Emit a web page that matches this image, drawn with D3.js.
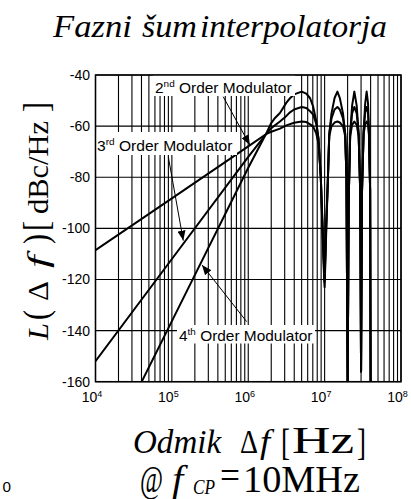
<!DOCTYPE html>
<html>
<head>
<meta charset="utf-8">
<script src="https://cdn.jsdelivr.net/npm/d3@7"></script>
<style>
body { margin: 0; background: #fff; }
svg { display: block; }
</style>
</head>
<body>
<svg id="chart" width="411" height="499"></svg>
<script>
// [offset Hz, L(df) dBc/Hz]
var order2 = [
	[1.00e4,-108.5],[1.00e5,-88.3],[1.00e6,-67.9],[1.74e6,-63.0],[2.00e6,-62.2],[2.60e6,-61.0],
	[3.16e6,-59.7],[3.98e6,-58.7],[5.01e6,-58.2],[5.75e6,-58.4],[6.46e6,-59.3],[7.08e6,-60.2],
	[7.76e6,-62.8],[8.32e6,-67],[8.91e6,-80],[9.44e6,-100],[9.89e6,-117],
	[1.00e7,-119],[1.05e7,-97],[1.10e7,-82],[1.15e7,-64],[1.23e7,-60],[1.35e7,-58.6],[1.47e7,-58.2],
	[1.58e7,-58.6],[1.74e7,-60],[1.86e7,-64],[1.93e7,-80],[2.00e7,-162],
	[2.07e7,-88],[2.16e7,-64],[2.29e7,-59.5],[2.45e7,-58.2],[2.63e7,-59.5],[2.79e7,-64],[2.92e7,-85],[3.00e7,-156],
	[3.09e7,-85],[3.24e7,-63],[3.40e7,-59.3],[3.55e7,-58.2],[3.70e7,-59.3],[3.80e7,-63],[3.94e7,-85],[4.00e7,-162]
];
var order3 = [
	[1.00e4,-152],[1.00e5,-112],[1.00e6,-72],[1.74e6,-62.8],[2.00e6,-60.8],[2.60e6,-58.2],
	[3.16e6,-56],[3.52e6,-54.6],[3.98e6,-53.5],[5.01e6,-52.5],[5.75e6,-52.9],[6.46e6,-54.2],
	[7.08e6,-55.5],[7.76e6,-59],[8.32e6,-65],[8.91e6,-80],[9.44e6,-102],[9.89e6,-119],
	[1.00e7,-121],[1.05e7,-99],[1.10e7,-82],[1.15e7,-63],[1.23e7,-57],[1.35e7,-53.5],[1.47e7,-52.5],
	[1.58e7,-53.5],[1.74e7,-57],[1.86e7,-63],[1.93e7,-80],[2.00e7,-162],
	[2.07e7,-88],[2.16e7,-63],[2.29e7,-55],[2.45e7,-52.5],[2.63e7,-55],[2.79e7,-63],[2.92e7,-85],[3.00e7,-156],
	[3.09e7,-85],[3.24e7,-62],[3.40e7,-54.5],[3.55e7,-52.5],[3.70e7,-55],[3.80e7,-62],[3.94e7,-85],[4.00e7,-162]
];
var order4 = [
	[3.98e4,-160.3],[1.00e5,-136.3],[1.00e6,-76.3],[1.74e6,-62.6],[2.00e6,-58.8],[2.24e6,-56.8],
	[2.60e6,-54.9],[3.16e6,-50.8],[3.52e6,-49.1],[3.98e6,-47.6],[5.01e6,-46.5],[5.75e6,-47.3],
	[6.46e6,-49.1],[7.08e6,-52.4],[7.76e6,-58],[8.32e6,-65],[8.91e6,-80],[9.44e6,-104],[9.89e6,-121],
	[1.00e7,-123],[1.05e7,-101],[1.10e7,-82],[1.15e7,-63],[1.23e7,-55],[1.35e7,-49],[1.47e7,-46.5],
	[1.58e7,-49],[1.74e7,-55],[1.86e7,-63],[1.93e7,-80],[2.00e7,-162],
	[2.07e7,-88],[2.16e7,-63],[2.29e7,-52],[2.45e7,-46.5],[2.63e7,-52],[2.79e7,-63],[2.92e7,-85],[3.00e7,-156],
	[3.09e7,-85],[3.24e7,-62],[3.40e7,-51],[3.55e7,-46.5],[3.70e7,-51],[3.80e7,-62],[3.94e7,-85],[4.00e7,-162]
];

var yTicks = [-40, -60, -80, -100, -120, -140, -160];
var xTicks = [1e4, 1e5, 1e6, 1e7, 1e8];

var annotNum = ["2", "3", "4"];
var annotSup = ["nd", "rd", "th"];
var arrowFrom = [[4.7e5, -48.5], [8.98e4, -72], [9.53e5, -136.5]];
var arrowTo = [[1.05e6, -67.4], [1.41e5, -104.8], [2.48e5, -114.3]];

var svg = d3.select("#chart");
var pL = 95.5, pR = 401, pT = 75, pB = 381.7;

var x = d3.scaleLog().domain([1e4, 1e8]).range([pL, pR]);
var y = d3.scaleLinear().domain([-160, -40]).range([pB, pT]);

var SERIF = "'Liberation Serif', 'Times New Roman', serif";
var SANS = "'Liberation Sans', Arial, sans-serif";

// grid
var grid = svg.append("g").attr("stroke", "#000").attr("stroke-width", 1.1);
grid.selectAll("line.v")
	.data(x.ticks())
	.enter()
	.append("line")
	.attr("class", "v")
	.attr("x1", function(d){ return x(d); })
	.attr("x2", function(d){ return x(d); })
	.attr("y1", pT)
	.attr("y2", pB);
grid.selectAll("line.h")
	.data(yTicks)
	.enter()
	.append("line")
	.attr("class", "h")
	.attr("x1", pL)
	.attr("x2", pR)
	.attr("y1", function(d){ return y(d); })
	.attr("y2", function(d){ return y(d); });

// curves
svg.append("clipPath").attr("id", "plot")
	.append("rect")
	.attr("x", pL).attr("y", pT)
	.attr("width", pR - pL).attr("height", pB - pT);

var line = d3.line()
	.x(function(d){ return x(d[0]); })
	.y(function(d){ return y(d[1]); });

svg.append("g")
	.attr("clip-path", "url(#plot)")
	.selectAll("path")
	.data([order2, order3, order4])
	.enter()
	.append("path")
	.attr("d", line)
	.attr("fill", "none")
	.attr("stroke", "#000")
	.attr("stroke-width", 2)
	.attr("stroke-linejoin", "round");

function fit(t, x0, y0, w, rot){
	var bw = t.node().getBBox().width;
	t.attr("transform", "translate(" + x0 + "," + y0 + ")" + (rot ? " rotate(-90)" : "") + " scale(" + (w / bw) + ",1)");
}

// annotation boxes + labels
var boxes = [[153, 75, 142, 21, 155, 93], [95.5, 132, 141.5, 23, 97, 150.5], [177, 325, 138, 18.5, 179, 340.5]];
var labelW = [137, 136, 134];

svg.append("defs").append("marker")
	.attr("id", "head")
	.attr("viewBox", "0 0 10 8")
	.attr("refX", 10).attr("refY", 4)
	.attr("markerWidth", 10).attr("markerHeight", 8)
	.attr("markerUnits", "userSpaceOnUse")
	.attr("orient", "auto")
	.append("path")
	.attr("d", "M0,0L10,4L0,8Z")
	.attr("fill", "#000");

annotNum.forEach(function(n, i){
	var b = boxes[i];
	svg.append("rect")
		.attr("x", b[0]).attr("y", b[1])
		.attr("width", b[2]).attr("height", b[3])
		.attr("fill", "#fff");
	var t = svg.append("text")
		.attr("font-family", SANS)
		.attr("font-size", 14);
	t.append("tspan").text(n);
	t.append("tspan").attr("font-size", 9).attr("dy", -6).text(annotSup[i]);
	t.append("tspan").attr("dy", 6).text(" Order Modulator");
	fit(t, b[4], b[5], labelW[i]);

	svg.append("line")
		.attr("x1", x(arrowFrom[i][0])).attr("y1", y(arrowFrom[i][1]))
		.attr("x2", x(arrowTo[i][0])).attr("y2", y(arrowTo[i][1]))
		.attr("stroke", "#000")
		.attr("stroke-width", 1)
		.attr("marker-end", "url(#head)");
});

// frame
svg.append("rect")
	.attr("x", pL).attr("y", pT)
	.attr("width", pR - pL).attr("height", pB - pT)
	.attr("fill", "none")
	.attr("stroke", "#000")
	.attr("stroke-width", 1.5);

// axes
var yAxis = svg.append("g")
	.attr("transform", "translate(" + pL + ",0)")
	.call(d3.axisLeft(y).tickValues(yTicks).tickSize(0).tickPadding(5.5));
yAxis.select(".domain").remove();
yAxis.selectAll("text")
	.attr("font-family", SANS)
	.attr("font-size", 14)
	.attr("fill", "#000")
	.text(function(d){ return d; });

var xAxis = svg.append("g")
	.attr("transform", "translate(0," + pB + ")")
	.call(d3.axisBottom(x).tickValues(xTicks).tickSize(0).tickPadding(10));
xAxis.select(".domain").remove();
xAxis.selectAll("text")
	.attr("font-family", SANS)
	.attr("font-size", 14)
	.attr("fill", "#000")
	.attr("x", -4)
	.text("")
	.each(function(d){
		var t = d3.select(this);
		t.append("tspan").text("10");
		t.append("tspan").attr("font-size", 9).attr("dy", "-0.55em").text(Math.round(Math.log10(d)));
	});

// titles
function piece(str, x0, y0, w, size, italic, fam, rot){
	var t = svg.append("text")
		.attr("font-family", fam || SERIF)
		.attr("font-size", size)
		.attr("font-style", italic ? "italic" : "normal")
		.text(str);
	fit(t, x0, y0, w, rot);
	return t;
}

piece("Fazni", 53, 37, 80, 32, true);
piece("šum", 142, 37, 55, 32, true);
piece("interpolatorja", 200, 37, 187, 32, true);

// y title, baseline at x=48, reading upward
piece("L", 48, 340, 18, 30, true, SERIF, true);
piece("(", 48, 320, 10, 36, false, SERIF, true);
piece("Δ", 48, 301, 20, 30, false, SERIF, true);
piece("f", 48, 268, 18, 30, true, SERIF, true);
piece(")", 48, 244, 10, 36, false, SERIF, true);
piece("[", 48, 231, 10, 36, false, SERIF, true);
piece("dBc/Hz", 48, 214, 93, 30, false, SERIF, true);
piece("]", 48, 112, 10, 36, false, SERIF, true);

// x title
piece("Odmik", 133, 453, 89, 34, true);
piece("Δ", 240, 453, 18, 34, false);
piece("f", 260, 453, 15, 34, true);
piece("[", 281, 455, 9, 38, false);
piece("Hz", 292, 453, 62, 38, false);
piece("]", 357, 455, 9, 38, false);

piece("@", 140, 492, 23, 38, false);
piece("f", 172, 492, 16, 38, true);
piece("CP", 193, 494, 22, 22, true);
piece("=", 220, 488, 20, 38, false);
piece("10MHz", 243, 492, 117, 38, false);

piece("0", 2.5, 491.7, 8.5, 15, false, SANS);
</script>
</body>
</html>
